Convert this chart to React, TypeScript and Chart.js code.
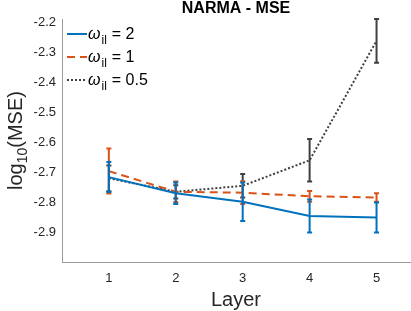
import React, { useEffect, useRef } from "react";
import { Chart, registerables } from "chart.js";

Chart.register(...registerables);

const layers = [1, 2, 3, 4, 5];
const xTicks = [1, 2, 3, 4, 5];
const yTicks = [-2.9, -2.8, -2.7, -2.6, -2.5, -2.4, -2.3, -2.2];

const mseW2 = [-2.717, -2.771, -2.799, -2.847, -2.852];
const errW2 = [0.05, 0.036, 0.064, 0.055, 0.05];
const mseW1 = [-2.697, -2.766, -2.769, -2.781, -2.785];
const errW1 = [0.075, 0.034, 0.038, 0.018, 0.014];
const mseW05 = [-2.721, -2.766, -2.746, -2.661, -2.263];
const errW05 = [0.043, 0.022, 0.039, 0.071, 0.073];

const seriesNames = ["2", "1", "0.5"];
const colors = ["#0072BD", "#D95319", "#404040"];
const dashes: number[][] = [[], [8, 5], [2, 2]];
const errs = [errW2, errW1, errW05];

const FONT = "'Liberation Sans', Arial, Helvetica, sans-serif";

const errorBarPlugin = {
  id: "errorBars",
  afterDatasetDraw(chart: any, args: any) {
    const i = args.index;
    const ds = chart.data.datasets[i];
    const e = errs[i];
    const xs = chart.scales.x;
    const ys = chart.scales.y;
    const ctx = chart.ctx;
    ctx.save();
    ctx.strokeStyle = colors[i];
    ctx.lineWidth = 2;
    ctx.setLineDash([]);
    ds.data.forEach((p: any, k: number) => {
      const px = xs.getPixelForValue(p.x);
      const top = ys.getPixelForValue(p.y + e[k]);
      const bot = ys.getPixelForValue(p.y - e[k]);
      ctx.beginPath();
      ctx.moveTo(px, top);
      ctx.lineTo(px, bot);
      ctx.moveTo(px - 2.5, top);
      ctx.lineTo(px + 2.5, top);
      ctx.moveTo(px - 2.5, bot);
      ctx.lineTo(px + 2.5, bot);
      ctx.stroke();
    });
    ctx.restore();
  },
};

const decorPlugin = {
  id: "decor",
  afterDraw(chart: any) {
    const ctx = chart.ctx;
    const a = chart.chartArea;
    const cx = (a.left + a.right) / 2;
    ctx.save();
    // Title
    ctx.fillStyle = "#000";
    ctx.font = `bold 16px ${FONT}`;
    ctx.textAlign = "center";
    ctx.textBaseline = "alphabetic";
    ctx.fillText("NARMA - MSE", cx, 13);

    // X label
    ctx.fillStyle = "#262626";
    ctx.font = `20px ${FONT}`;
    ctx.fillText("Layer", cx, 306);

    // Y label with subscript
    ctx.save();
    ctx.translate(22, (a.top + a.bottom) / 2);
    ctx.rotate(-Math.PI / 2);
    const mainF = `20px ${FONT}`;
    const subF = `14px ${FONT}`;
    ctx.font = mainF;
    const w1 = ctx.measureText("log").width;
    const w3 = ctx.measureText("(MSE)").width;
    ctx.font = subF;
    const w2 = ctx.measureText("10").width;
    const total = w1 + w2 + w3;
    let x = -total / 2;
    ctx.textAlign = "left";
    ctx.font = mainF;
    ctx.fillText("log", x, 0);
    x += w1;
    ctx.font = subF;
    ctx.fillText("10", x, 5);
    x += w2;
    ctx.font = mainF;
    ctx.fillText("(MSE)", x, 0);
    ctx.restore();

    // Legend
    const rows = [15, 38, 61];
    rows.forEach((dy, i) => {
      const y = a.top + dy;
      ctx.strokeStyle = colors[i];
      ctx.lineWidth = 2;
      ctx.setLineDash(dashes[i]);
      ctx.beginPath();
      ctx.moveTo(a.left + 5, y);
      ctx.lineTo(a.left + 25, y);
      ctx.stroke();
      ctx.setLineDash([]);
      ctx.fillStyle = "#000";
      ctx.textAlign = "left";
      let tx = a.left + 26;
      const base = y + 5;
      ctx.font = `italic 16px ${FONT}`;
      ctx.fillText("\u03c9", tx, base);
      tx += ctx.measureText("\u03c9").width + 1;
      ctx.font = `12px ${FONT}`;
      ctx.fillText("il", tx, base + 5);
      tx += ctx.measureText("il").width + 2;
      ctx.font = `16px ${FONT}`;
      ctx.fillText("= " + seriesNames[i], tx + 3, base);
    });
    ctx.restore();
  },
};

export default function App() {
  const ref = useRef<HTMLCanvasElement>(null);
  useEffect(() => {
    if (!ref.current) return;
    const values = [mseW2, mseW1, mseW05];
    const chart = new Chart(ref.current, {
      type: "line",
      data: {
        datasets: values.map((v, i) => ({
          label: seriesNames[i],
          data: layers.map((l, k) => ({ x: l, y: v[k] })),
          borderColor: colors[i],
          backgroundColor: colors[i],
          borderWidth: 2,
          borderDash: dashes[i],
          pointRadius: 0,
          tension: 0,
          fill: false,
        })),
      },
      options: {
        animation: false,
        responsive: false,
        devicePixelRatio: 1,
        layout: { padding: { top: 19, right: 1, left: 0, bottom: 0 } },
        plugins: {
          legend: { display: false },
          title: { display: false },
          tooltip: { enabled: false },
        },
        scales: {
          x: {
            type: "linear",
            min: 0.3,
            max: 5.5,
            grid: { display: false, drawTicks: false },
            border: { display: true, color: "#9a9a9a", width: 1 },
            afterBuildTicks: (s: any) => {
              s.ticks = xTicks.map((v) => ({ value: v }));
            },
            afterFit: (s: any) => {
              s.height = 49;
            },
            ticks: {
              padding: 9,
              color: "#262626",
              font: { family: FONT, size: 13 },
              callback: (v: any) => String(v),
              maxRotation: 0,
            },
          },
          y: {
            type: "linear",
            min: -3.0,
            max: -2.19,
            grid: { display: false, drawTicks: false },
            border: { display: true, color: "#9a9a9a", width: 1 },
            afterBuildTicks: (s: any) => {
              s.ticks = yTicks.map((v) => ({ value: v }));
            },
            afterFit: (s: any) => {
              s.width = 62;
            },
            ticks: {
              padding: 6,
              color: "#262626",
              font: { family: FONT, size: 13 },
              callback: (v: any) => Number(v).toFixed(1),
            },
          },
        },
      },
      plugins: [errorBarPlugin, decorPlugin],
    });
    return () => chart.destroy();
  }, []);
  return (
    <div style={{ position: "fixed", left: 0, top: 0, width: 411, height: 311, background: "#fff" }}>
      <canvas ref={ref} width={411} height={311} style={{ width: 411, height: 311 }} />
    </div>
  );
}
